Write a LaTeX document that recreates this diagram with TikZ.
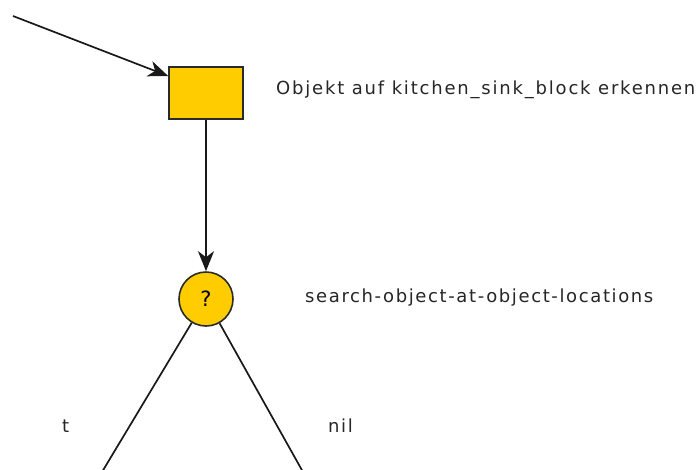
\documentclass[tikz,border=0pt]{standalone}
\usepackage{fontspec}
\setmainfont{DejaVu Sans}
\newfontfamily\widesans[LetterSpace=9]{DejaVu Sans}
\newfontfamily\widersans[LetterSpace=10]{DejaVu Sans}
\usetikzlibrary{arrows.meta}
\definecolor{nodefill}{HTML}{FFCC00}
\definecolor{nodeline}{HTML}{2A2A2A}
\tikzset{
  x=1pt, y=-1pt,
  stepbox/.style={draw=nodeline, line width=1.6pt, fill=nodefill, rectangle,
    minimum width=74pt, minimum height=52pt, inner sep=0pt},
  choice/.style={draw=nodeline, line width=1.6pt, fill=nodefill, circle,
    minimum size=54pt, inner sep=0pt, font=\fontsize{21}{24}\selectfont},
  caption/.style={anchor=west, inner sep=0pt, text=black!85,
    font=\widesans\fontsize{18}{21}\selectfont},
  widecaption/.style={caption, font=\widersans\fontsize{18}{21}\selectfont},
  link/.style={draw=black!90, line width=1.7pt},
  flow/.style={link, -{Stealth[length=20pt, width=16pt, inset=6pt]}}
}
\begin{document}
\begin{tikzpicture}
\useasboundingbox (0,0) rectangle (699,469);
% decision tree nodes
\node[stepbox] (detect) at (206,93) {};
\node[choice] (search) at (206,299) {?};
% entry point and open branch ends
\coordinate (entry) at (13,16);
\coordinate (tEnd) at (102,472);
\coordinate (nilEnd) at (303,472);
% connectors
\draw[flow] (entry) -- ([yshift=17pt]detect.west);
\draw[flow] (detect) -- (search);
\draw[link] (search) -- (tEnd);
\draw[link] (search) -- (nilEnd);
% labels
\node[widecaption] (detectLabel) at (276,90) {Objekt auf kitchen\_sink\_block erkennen};
\node[caption] (searchLabel) at (305,298) {search-object-at-object-locations};
\node[caption] (tLabel) at (62,426) {t};
\node[caption] (nilLabel) at (328,426) {nil};
\end{tikzpicture}
\end{document}
